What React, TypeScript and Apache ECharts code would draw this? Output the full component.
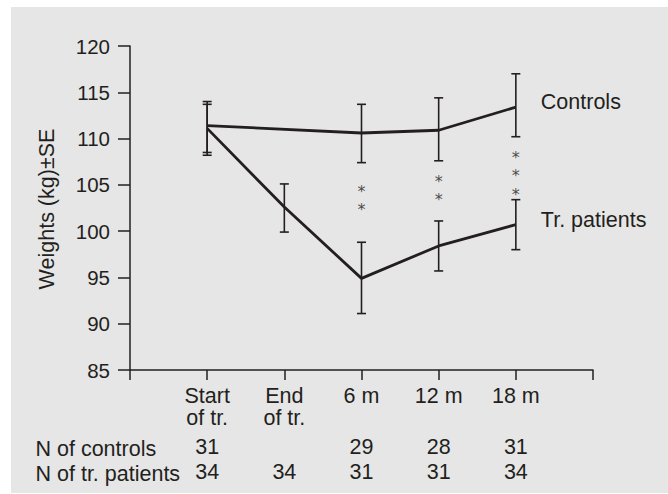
import React, { useEffect, useRef } from "react";
import * as echarts from "echarts";

// ---- data ----
const categories = ["Start\nof tr.", "End\nof tr.", "6 m", "12 m", "18 m"];
const controlsMean = [111.4, null, 110.6, 110.9, 113.4];
const controlsLow = [108.5, null, 107.4, 107.6, 110.2];
const controlsHigh = [114.0, null, 113.7, 114.4, 117.0];
const patientsMean = [111.1, 102.6, 94.9, 98.4, 100.7];
const patientsLow = [108.2, 99.9, 91.1, 95.7, 98.0];
const patientsHigh = [113.7, 105.1, 98.8, 101.1, 103.4];
const nControls = [31, null, 29, 28, 31];
const nPatients = [34, 34, 31, 31, 34];
// significance stars: [category position, weight level]
const starMarks = [
  [3, 104.7], [3, 102.75],
  [4, 105.8], [4, 103.8],
  [5, 108.4], [5, 106.4], [5, 104.4],
];
const yTicks = [85, 90, 95, 100, 105, 110, 115, 120];

const INK = "#231f20";
const FONT = "'Liberation Sans', Arial, Helvetica, sans-serif";
const FS = 21.5;

function toPoints(vals: (number | null)[]) {
  const out: number[][] = [];
  vals.forEach((v, i) => { if (v != null) out.push([i + 1, v]); });
  return out;
}
function toBars(lo: (number | null)[], hi: (number | null)[]) {
  const out: number[][] = [];
  lo.forEach((v, i) => { if (v != null && hi[i] != null) out.push([i + 1, v, hi[i] as number]); });
  return out;
}

const errRender = (params: any, api: any) => {
  const x = api.value(0);
  const lo = api.coord([x, api.value(1)]);
  const hi = api.coord([x, api.value(2)]);
  const w = 4.5;
  const style = { stroke: INK, lineWidth: 1.6 };
  return {
    type: "group",
    children: [
      { type: "line", shape: { x1: lo[0], y1: lo[1], x2: hi[0], y2: hi[1] }, style },
      { type: "line", shape: { x1: hi[0] - w, y1: hi[1], x2: hi[0] + w, y2: hi[1] }, style },
      { type: "line", shape: { x1: lo[0] - w, y1: lo[1], x2: lo[0] + w, y2: lo[1] }, style },
    ],
  };
};

export default function App() {
  const ref = useRef<HTMLDivElement>(null);
  useEffect(() => {
    document.body.style.margin = "0";
    const chart = echarts.init(ref.current!, null, { renderer: "svg" });
    const rowAxis = (vals: (number | null)[], margin: number) => ({
      type: "value",
      gridIndex: 0,
      position: "bottom",
      min: 0,
      max: 6,
      interval: 1,
      axisLine: { show: false },
      axisTick: { show: false },
      splitLine: { show: false },
      axisLabel: {
        margin,
        fontSize: FS,
        fontFamily: FONT,
        color: INK,
        formatter: (v: number) => {
          const n = vals[v - 1];
          return n == null ? "" : String(n);
        },
      },
    });
    const endLabel = {
      show: true,
      formatter: "{a}",
      distance: 25,
      offset: [0, -5],
      fontSize: FS,
      fontFamily: FONT,
      color: INK,
    };
    chart.setOption({
      animation: false,
      backgroundColor: "transparent",
      grid: { left: 130, top: 46, width: 463, height: 324 },
      xAxis: [
        {
          type: "value",
          min: 0,
          max: 6,
          interval: 1,
          axisLine: { lineStyle: { color: INK, width: 1.5 } },
          axisTick: { length: 10, lineStyle: { color: INK, width: 1.5 } },
          splitLine: { show: false },
          axisLabel: {
            margin: 15,
            fontSize: FS,
            lineHeight: 22,
            fontFamily: FONT,
            color: INK,
            formatter: (v: number) => categories[v - 1] ?? "",
          },
        },
        rowAxis(nControls, 66),
        rowAxis(nPatients, 91),
      ],
      yAxis: {
        type: "value",
        min: yTicks[0],
        max: yTicks[yTicks.length - 1],
        interval: 5,
        axisLine: { show: true, lineStyle: { color: INK, width: 1.5 } },
        axisTick: { show: true, length: 12, lineStyle: { color: INK, width: 1.5 } },
        splitLine: { show: false },
        axisLabel: { margin: 20, fontSize: 20.5, fontFamily: FONT, color: INK },
      },
      series: [
        {
          name: "Controls",
          type: "line",
          data: toPoints(controlsMean),
          symbol: "none",
          lineStyle: { color: INK, width: 2.8 },
          endLabel,
          z: 3,
        },
        {
          name: "Tr. patients",
          type: "line",
          data: toPoints(patientsMean),
          symbol: "none",
          lineStyle: { color: INK, width: 2.8 },
          endLabel,
          z: 3,
        },
        { type: "custom", renderItem: errRender, data: toBars(controlsLow, controlsHigh), z: 4 },
        { type: "custom", renderItem: errRender, data: toBars(patientsLow, patientsHigh), z: 4 },
        {
          type: "scatter",
          data: starMarks,
          symbolSize: 0,
          label: {
            show: true,
            position: "inside",
            formatter: "*",
            fontSize: 16,
            lineHeight: 16,
            fontFamily: "'DejaVu Sans', sans-serif",
            color: INK,
            offset: [0, 4],
          },
        },
      ],
      graphic: [
        {
          type: "text",
          x: 46.5,
          y: 209,
          rotation: Math.PI / 2,
          style: {
            text: "Weights (kg)±SE",
            fontSize: FS,
            fontFamily: FONT,
            fill: INK,
            align: "center",
            verticalAlign: "middle",
          },
        },
        {
          type: "text",
          left: 35.5,
          top: 438,
          style: { text: "N of controls", fontSize: FS, fontFamily: FONT, fill: INK },
        },
        {
          type: "text",
          left: 35.5,
          top: 463,
          style: { text: "N of tr. patients", fontSize: FS, fontFamily: FONT, fill: INK },
        },
      ],
    });
    return () => chart.dispose();
  }, []);
  return (
    <div style={{ position: "relative", width: 668, height: 494, background: "#fff", overflow: "hidden" }}>
      <div style={{ position: "absolute", left: 11, top: 7, width: 657, height: 486, background: "#e6e6e6" }} />
      <div ref={ref} style={{ position: "absolute", left: 0, top: 0, width: 668, height: 494 }} />
    </div>
  );
}
